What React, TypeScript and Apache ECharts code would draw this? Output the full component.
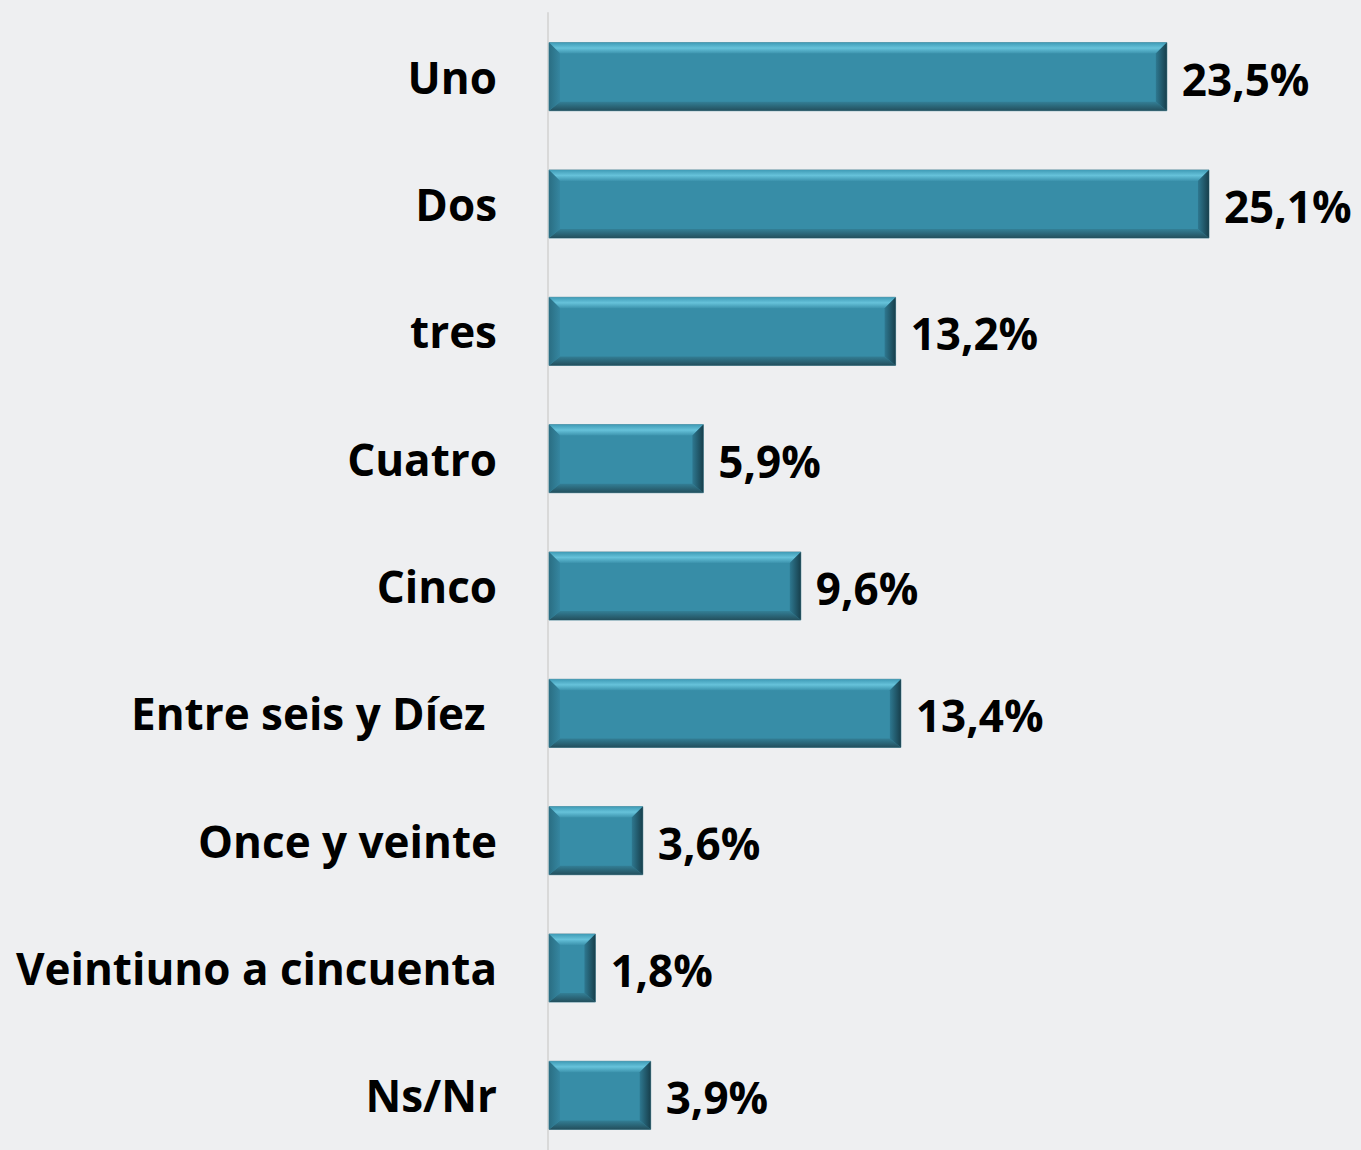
import React, { useEffect, useRef } from "react";
import * as echarts from "echarts";

const categories = [
  "Uno",
  "Dos",
  "tres",
  "Cuatro",
  "Cinco",
  "Entre seis y Díez ",
  "Once y veinte",
  "Veintiuno a cincuenta",
  "Ns/Nr",
];
const values = [23.5, 25.1, 13.2, 5.9, 9.6, 13.4, 3.6, 1.8, 3.9];
const valueLabels = ["23,5%", "25,1%", "13,2%", "5,9%", "9,6%", "13,4%", "3,6%", "1,8%", "3,9%"];

const FONT = "'Open Sans', Lato, sans-serif";
const FS = 44;

export default function App() {
  const ref = useRef<HTMLDivElement>(null);
  useEffect(() => {
    if (!ref.current) return;
    const chart = echarts.init(ref.current, null, { renderer: "svg" });
    const option: any = {
      animation: false,
      backgroundColor: "#EEEFF1",
      grid: { left: 548, top: 13, right: 23, bottom: 1, containLabel: false },
      xAxis: {
        type: "value",
        min: 0,
        max: 30,
        show: false,
      },
      yAxis: {
        type: "category",
        inverse: true,
        data: categories,
        axisLine: { show: true, lineStyle: { color: "#D9D9D9", width: 2 } },
        axisTick: { show: false },
        axisLabel: {
          margin: 51,
          color: "#000",
          fontFamily: FONT,
          fontWeight: "bold",
          fontSize: FS,
        },
        splitLine: { show: false },
      },
      series: [
        {
          type: "custom",
          data: values.map((v, i) => [v, i]),
          encode: { x: 0, y: 1 },
          renderItem: (params: any, api: any) => {
            const v = api.value(0);
            const idx = api.value(1);
            const p0 = api.coord([0, idx]);
            const p1 = api.coord([v, idx]);
            const band = api.size([0, 1])[1];
            const h = band * 0.535;
            const x0 = p0[0] + 1;
            const x1 = p1[0];
            const y0 = p0[1] - h / 2;
            const y1 = p0[1] + h / 2;
            const b = Math.min(11, (x1 - x0) / 2);
            const bb = 9;
            return {
              type: "group",
              children: [
                {
                  type: "rect",
                  shape: { x: x0, y: y0, width: x1 - x0, height: y1 - y0 },
                  style: { fill: "#378DA7", stroke: "#6B9AA8", lineWidth: 1 },
                },
                {
                  type: "polygon",
                  shape: { points: [[x0, y0], [x1, y0], [x1 - b, y0 + b], [x0 + b, y0 + b]] },
                  style: {
                    fill: new echarts.graphic.LinearGradient(0, 0, 0, 1, [
                      { offset: 0, color: "#3F9BB6" },
                      { offset: 0.5, color: "#66C2DA" },
                      { offset: 1, color: "#3C93AD" },
                    ]),
                  },
                },
                {
                  type: "polygon",
                  shape: { points: [[x0, y1], [x1, y1], [x1 - b, y1 - bb], [x0 + b, y1 - bb]] },
                  style: {
                    fill: new echarts.graphic.LinearGradient(0, 0, 0, 1, [
                      { offset: 0, color: "#337F96" },
                      { offset: 1, color: "#234F5D" },
                    ]),
                  },
                },
                {
                  type: "polygon",
                  shape: { points: [[x0, y0], [x0 + b, y0 + b], [x0 + b, y1 - bb], [x0, y1]] },
                  style: {
                    fill: new echarts.graphic.LinearGradient(0, 0, 1, 0, [
                      { offset: 0, color: "#2A6E83" },
                      { offset: 1, color: "#3586A0" },
                    ]),
                  },
                },
                {
                  type: "polygon",
                  shape: { points: [[x1, y0], [x1 - b, y0 + b], [x1 - b, y1 - bb], [x1, y1]] },
                  style: {
                    fill: new echarts.graphic.LinearGradient(0, 0, 1, 0, [
                      { offset: 0, color: "#2E7890" },
                      { offset: 1, color: "#173F4C" },
                    ]),
                  },
                },
                {
                  type: "text",
                  style: {
                    x: x1 + 15,
                    y: p0[1] + 2,
                    text: valueLabels[idx],
                    fill: "#000",
                    font: `bold ${FS}px ${FONT}`,
                    align: "left",
                    verticalAlign: "middle",
                  },
                },
              ],
            };
          },
        },
      ],
    };
    chart.setOption(option);
    return () => chart.dispose();
  }, []);
  return (
    <div
      style={{ position: "absolute", left: 0, top: 0, width: 1361, height: 1150, overflow: "hidden" }}
    >
      <div ref={ref} style={{ width: 1361, height: 1160 }} />
    </div>
  );
}
